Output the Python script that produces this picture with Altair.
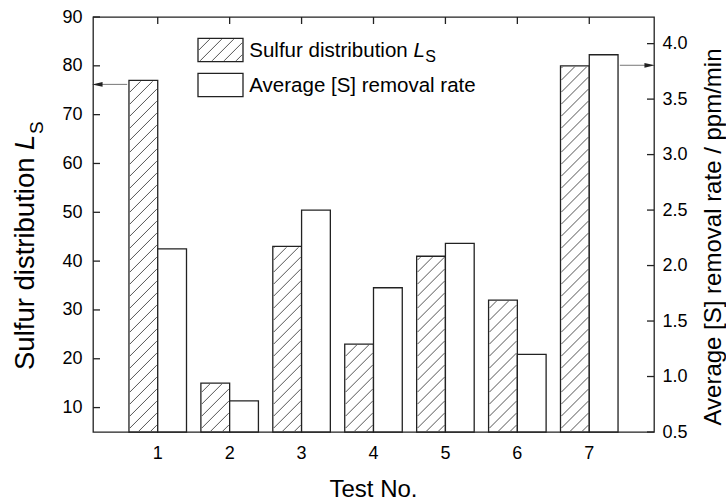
import altair as alt
import pandas as pd

# ---------------- data ----------------
tests = [1, 2, 3, 4, 5, 6, 7]
ls_values = [77, 15, 43, 23, 41, 32, 80]
rate_values = [2.15, 0.78, 2.50, 1.80, 2.20, 1.20, 3.90]
x_ticks = [1, 2, 3, 4, 5, 6, 7]
ls_ticks = [10, 20, 30, 40, 50, 60, 70, 80, 90]
rate_ticks = [0.5, 1.0, 1.5, 2.0, 2.5, 3.0, 3.5, 4.0]
x_title = "Test No."
ls_title_main = "Sulfur distribution "
ls_title_sym = "L"
ls_title_sub = "S"
rate_title = "Average [S] removal rate / ppm/min"
legend_ls = "Sulfur distribution "
legend_rate = "Average [S] removal rate"

# ---------------- layout ----------------
W, H = 561, 415
X_DOM = [0.1, 7.9]
LS_DOM = [5, 90]
RATE_DOM = [0.5, 4.24]
BAR_W = 0.4
TICK = 7
FONT = "Liberation Sans"
INK = "#222222"
HATCH = "#555555"


def x_px(v):
    return (v - X_DOM[0]) / (X_DOM[1] - X_DOM[0]) * W


def px_x(p):
    return X_DOM[0] + p / W * (X_DOM[1] - X_DOM[0])


def ls_py(v):
    return (LS_DOM[1] - v) / (LS_DOM[1] - LS_DOM[0]) * H


def py_ls(p):
    return LS_DOM[1] - p / H * (LS_DOM[1] - LS_DOM[0])


def hatch_segments(x0, y0, x1, y1, step=12.0, inset=0.9):
    """45-degree '/' hatch lines inside a pixel rectangle (plot coords)."""
    x0 += inset
    x1 -= inset
    y0 += inset
    y1 -= inset
    w, h = x1 - x0, y1 - y0
    segs = []
    k = 0
    while True:
        c = -w + step * (k + 0.5)
        if c >= h:
            break
        us, ue = max(0.0, -c), min(w, h - c)
        if ue - us > 0.5:
            segs.append(dict(x=px_x(x0 + us), y=py_ls(y1 - (us + c)),
                             x2=px_x(x0 + ue), y2=py_ls(y1 - (ue + c))))
        k += 1
    return segs


bars = pd.DataFrame({"test": tests, "ls": ls_values, "rate": rate_values})
bars["ls_lo"] = bars["test"] - BAR_W
bars["ls_hi"] = bars["test"]
bars["rate_lo"] = bars["test"]
bars["rate_hi"] = bars["test"] + BAR_W
bars["ls_base"] = LS_DOM[0]
bars["rate_base"] = RATE_DOM[0]

segs = []
for t, v in zip(tests, ls_values):
    segs += hatch_segments(x_px(t - BAR_W), ls_py(v), x_px(t), H)

# legend geometry (plot pixel coordinates)
LEG_X0, LEG_X1 = 105.0, 150.0
ROW1 = (21.3, 44.7)
ROW2 = (56.3, 79.7)
segs += hatch_segments(LEG_X0, ROW1[0], LEG_X1, ROW1[1])
hatch_df = pd.DataFrame(segs)

xs = alt.Scale(domain=X_DOM, nice=False, zero=False)
lss = alt.Scale(domain=LS_DOM, nice=False, zero=False)
rts = alt.Scale(domain=RATE_DOM, nice=False, zero=False)

y_left = alt.Axis(values=ls_ticks, format="d", orient="left", ticks=False,
                  domain=False, labelPadding=11, title=None)
y_right = alt.Axis(values=rate_ticks, format=".1f", orient="right", ticks=False,
                   domain=False, labelPadding=8, labelFlush=False, title=None)

NOX = dict(scale=xs, axis=None)

# ---------- inward tick marks and x tick labels ----------
tick_x_df = pd.DataFrame({"v": x_ticks, "lab": [str(t) for t in x_ticks]})
tick_ls_df = pd.DataFrame({"v": ls_ticks})
tick_rate_df = pd.DataFrame({"v": rate_ticks})
tick_top = alt.Chart(tick_x_df).mark_rule(color=INK, strokeWidth=1.3).encode(
    x=alt.X("v:Q", **NOX), y=alt.value(0), y2=alt.value(TICK))
tick_bottom = alt.Chart(tick_x_df).mark_rule(color=INK, strokeWidth=1.3).encode(
    x=alt.X("v:Q", **NOX), y=alt.value(H - TICK), y2=alt.value(H))
tick_left = alt.Chart(tick_ls_df).mark_rule(color=INK, strokeWidth=1.3).encode(
    y=alt.Y("v:Q", scale=lss, axis=y_left), x=alt.value(0), x2=alt.value(TICK))
tick_right = alt.Chart(tick_rate_df).mark_rule(color=INK, strokeWidth=1.3).encode(
    y=alt.Y("v:Q", scale=rts, axis=y_right), x=alt.value(W - TICK), x2=alt.value(W))
x_labels = alt.Chart(tick_x_df).mark_text(font=FONT, fontSize=18, color="black",
                                          align="center", baseline="alphabetic").encode(
    x=alt.X("v:Q", **NOX), y=alt.value(H + 27), text="lab:N")

# ---------- Sulfur distribution (left axis) ----------
hb = alt.Chart(bars)
ls_fill = hb.mark_bar(fill="white", stroke=None).encode(
    x=alt.X("ls_lo:Q", **NOX), x2="ls_hi:Q",
    y=alt.Y("ls_base:Q", scale=lss, axis=None), y2="ls:Q")
ls_hatch = alt.Chart(hatch_df).mark_rule(color=HATCH, strokeWidth=1).encode(
    x=alt.X("x:Q", **NOX), x2="x2:Q",
    y=alt.Y("y:Q", scale=lss, axis=None), y2="y2:Q")
ls_outline = hb.mark_bar(fill=None, fillOpacity=0, stroke=INK, strokeWidth=1.3).encode(
    x=alt.X("ls_lo:Q", **NOX), x2="ls_hi:Q",
    y=alt.Y("ls_base:Q", scale=lss, axis=None), y2="ls:Q")

arrow_l = pd.DataFrame({"x": [tests[0] - BAR_W - 0.025], "x2": [X_DOM[0] + 0.06],
                        "y": [ls_values[0] - 0.8]})
ls_arrow = alt.Chart(arrow_l).mark_rule(color="#777777", strokeWidth=1).encode(
    x=alt.X("x:Q", **NOX), x2="x2:Q",
    y=alt.Y("y:Q", scale=lss, axis=None))
ls_head = alt.Chart(arrow_l).mark_point(shape="M-1,0L1,-0.45L1,0.45Z", filled=True,
                                         size=110, color=INK, opacity=1).encode(
    x=alt.X("x2:Q", **NOX),
    y=alt.Y("y:Q", scale=lss, axis=None))

# ---------- removal rate (right axis) ----------
rate_bars = hb.mark_bar(fill="white", stroke=INK, strokeWidth=1.3).encode(
    x=alt.X("rate_lo:Q", **NOX), x2="rate_hi:Q",
    y=alt.Y("rate_base:Q", scale=rts, axis=None), y2="rate:Q")
arrow_r = pd.DataFrame({"x": [tests[-1] + BAR_W + 0.025], "x2": [X_DOM[1] - 0.06],
                        "y": [rate_values[-1] - 0.095]})
rate_arrow = alt.Chart(arrow_r).mark_rule(color="#777777", strokeWidth=1).encode(
    x=alt.X("x:Q", **NOX), x2="x2:Q",
    y=alt.Y("y:Q", scale=rts, axis=None))
rate_head = alt.Chart(arrow_r).mark_point(shape="M1,0L-1,-0.45L-1,0.45Z", filled=True,
                                           size=110, color=INK, opacity=1).encode(
    x=alt.X("x2:Q", **NOX),
    y=alt.Y("y:Q", scale=rts, axis=None))

# ---------- legend & axis titles (pixel placed decorations) ----------
one = pd.DataFrame({"k": [0]})


def txt(text, x, y, size, angle=0, align="left", baseline="alphabetic", style="normal"):
    return alt.Chart(one).mark_text(text=text, font=FONT, fontSize=size, angle=angle,
                                     align=align, baseline=baseline, fontStyle=style,
                                     color="black").encode(x=alt.value(x), y=alt.value(y))


def box(x0, x1, y0, y1):
    return alt.Chart(one).mark_rect(fill="white", fillOpacity=0, stroke=INK,
                                     strokeWidth=1.3).encode(
        x=alt.value(x0), x2=alt.value(x1), y=alt.value(y0), y2=alt.value(y1))


LEG_TX = 156.3
FS_LEG = 20.5
l_w = 8.004 * FS_LEG  # advance of "Sulfur distribution " in Arial metrics
deco = [
    box(LEG_X0, LEG_X1, ROW1[0], ROW1[1]),
    box(LEG_X0, LEG_X1, ROW2[0], ROW2[1]),
    txt(legend_ls, LEG_TX, 40, FS_LEG),
    txt(ls_title_sym, LEG_TX + l_w, 40, FS_LEG, style="italic"),
    txt(ls_title_sub, LEG_TX + l_w + 0.556 * FS_LEG + 0.5, 45, 16),
    txt(legend_rate, LEG_TX, 75, FS_LEG),
]

FS_T = 27.5
t_base_x = -59
t_start = 353
deco += [
    txt(ls_title_main, t_base_x, t_start, FS_T, angle=270),
    txt(ls_title_sym, t_base_x, t_start - 8.004 * FS_T, FS_T, angle=270, style="italic"),
    txt(ls_title_sub, t_base_x + 9, t_start - 8.004 * FS_T - 0.556 * FS_T - 0.5, 19, angle=270),
    txt(rate_title, 628, 220, 24, angle=270, align="center"),
    txt(x_title, W / 2, H + 65, 24, align="center"),
]

chart = alt.layer(
    tick_bottom, ls_fill, ls_hatch, ls_outline, rate_bars,
    tick_top, tick_left, tick_right, x_labels,
    ls_arrow, ls_head, rate_arrow, rate_head, *deco
).resolve_scale(y="independent").properties(
    width=W, height=H, autosize="none",
    padding={"left": 93, "top": 17, "right": 72, "bottom": 71},
).configure_axis(
    labelFont=FONT, titleFont=FONT, labelFontSize=18, labelColor="black",
    titleColor="black", titleFontWeight="normal", grid=False,
).configure_view(stroke=INK, strokeWidth=1.3)

chart.save("out.html", embed_options={"renderer": "svg", "actions": False})
